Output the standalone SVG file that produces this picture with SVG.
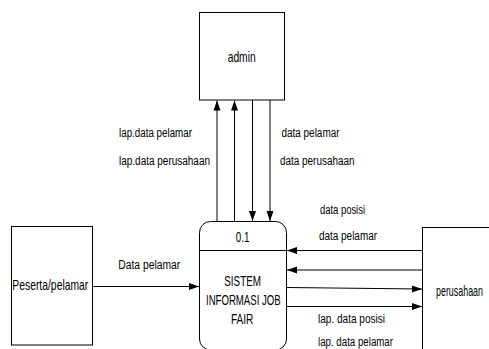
<svg xmlns="http://www.w3.org/2000/svg" width="489" height="349" viewBox="0 0 489 349">
<defs>
<marker id="ah" markerWidth="10" markerHeight="8" refX="10" refY="4" orient="auto" markerUnits="userSpaceOnUse">
<path d="M0,0.5 L10,4 L0,7.5 z" fill="#000"/>
</marker>
<style>
.box{fill:#fff;stroke:#000;stroke-width:1}
.c{fill:none;stroke:#000;stroke-width:1;marker-end:url(#ah)}
text{font-family:"Liberation Sans",Arial,sans-serif;fill:#000}
.n{font-size:15px}
.l{font-size:12.5px}
</style>
</defs>
<rect width="489" height="349" fill="#fff"/>
<g id="admin">
<rect class="box" x="199.5" y="12.5" width="85" height="87.5"/>
<text class="n" x="227.7" y="62" textLength="28" lengthAdjust="spacingAndGlyphs">admin</text>
</g>
<g id="proses">
<rect class="box" x="199.5" y="221.5" width="87" height="128.5" rx="11" ry="11"/>
<line x1="199.5" y1="250.5" x2="286.5" y2="250.5" stroke="#000"/>
<text class="n" x="235.7" y="242" textLength="13.7" lengthAdjust="spacingAndGlyphs">0.1</text>
<text class="n" x="224.3" y="286" textLength="36.7" lengthAdjust="spacingAndGlyphs">SISTEM</text>
<text class="n" x="206" y="305" textLength="74.7" lengthAdjust="spacingAndGlyphs">INFORMASI JOB</text>
<text class="n" x="231" y="324" textLength="22.3" lengthAdjust="spacingAndGlyphs">FAIR</text>
</g>
<g id="peserta">
<rect class="box" x="11.5" y="226.5" width="81" height="118.5"/>
<text class="n" x="12.3" y="290" textLength="76" lengthAdjust="spacingAndGlyphs">Peserta/pelamar</text>
</g>
<g id="perusahaan">
<rect class="box" x="422.5" y="227.5" width="100" height="150"/>
<text class="n" x="436" y="296" textLength="47" lengthAdjust="spacingAndGlyphs">perusahaan</text>
</g>
<g id="connectors">
<line class="c" x1="217" y1="221.5" x2="217" y2="100.5"/>
<line class="c" x1="234.5" y1="221.5" x2="234.5" y2="100.5"/>
<line class="c" x1="252.5" y1="100" x2="252.5" y2="221"/>
<line class="c" x1="270" y1="100" x2="270" y2="221"/>
<line class="c" x1="422.5" y1="250.5" x2="287" y2="250.5"/>
<line class="c" x1="422.5" y1="270" x2="287" y2="270"/>
<line class="c" x1="287" y1="287.5" x2="422" y2="289"/>
<line class="c" x1="287" y1="306.5" x2="422" y2="306.5"/>
<line class="c" x1="92.5" y1="286.5" x2="199" y2="286.5"/>
<text class="l" x="119" y="137" textLength="73" lengthAdjust="spacingAndGlyphs">lap.data pelamar</text>
<text class="l" x="119" y="165" textLength="91" lengthAdjust="spacingAndGlyphs">lap.data perusahaan</text>
<text class="l" x="281.5" y="137" textLength="58" lengthAdjust="spacingAndGlyphs">data pelamar</text>
<text class="l" x="280" y="165" textLength="74.5" lengthAdjust="spacingAndGlyphs">data perusahaan</text>
<text class="l" x="320" y="214" textLength="45" lengthAdjust="spacingAndGlyphs">data posisi</text>
<text class="l" x="319" y="240" textLength="58" lengthAdjust="spacingAndGlyphs">data pelamar</text>
<text class="l" x="318" y="323" textLength="67" lengthAdjust="spacingAndGlyphs">lap. data posisi</text>
<text class="l" x="318" y="346" textLength="75" lengthAdjust="spacingAndGlyphs">lap. data pelamar</text>
<text class="l" x="118.3" y="269" textLength="62" lengthAdjust="spacingAndGlyphs">Data pelamar</text>
</g>
</svg>
